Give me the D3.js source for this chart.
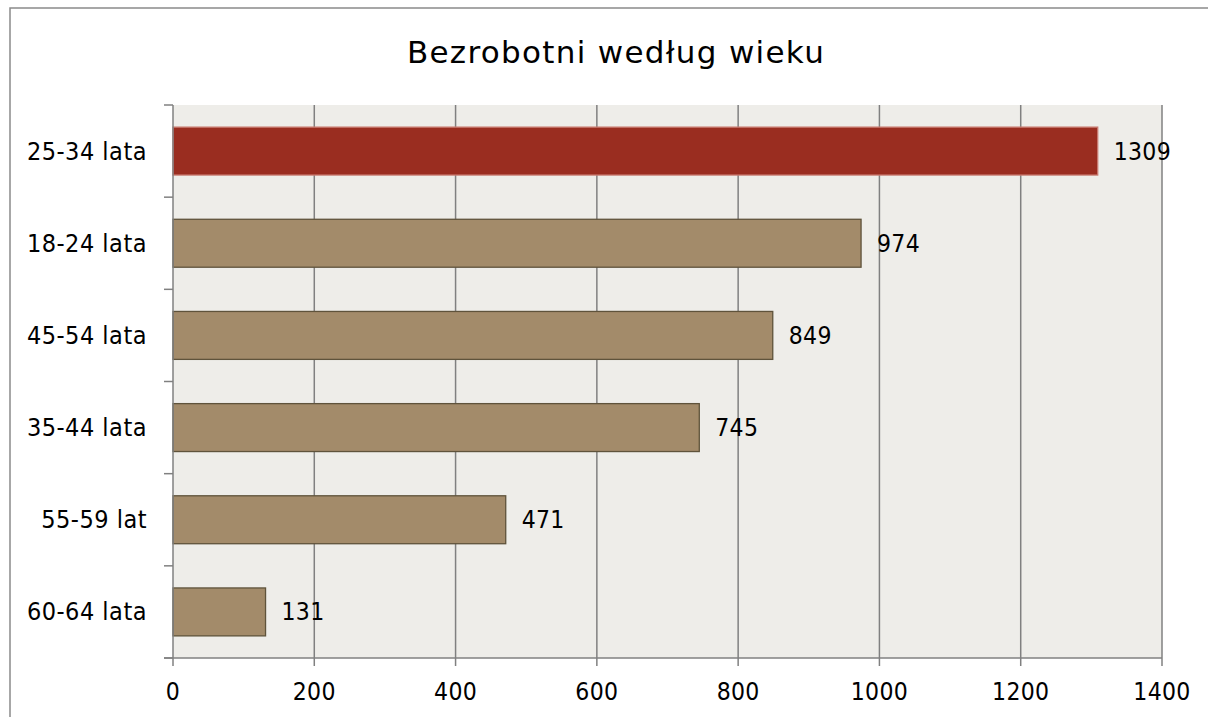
<!DOCTYPE html>
<meta charset="utf-8">
<script src="https://d3js.org/d3.v7.min.js"></script>
<style>
  body { margin: 0; background: #fff; }
  text { font-family: "DejaVu Sans Condensed", "DejaVu Sans", sans-serif; fill: #000; }
</style>
<body>
<script>
// Data
var categories = ["25-34 lata", "18-24 lata", "45-54 lata", "35-44 lata", "55-59 lat", "60-64 lata"];
var values = [1309, 974, 849, 745, 471, 131];
var highlight = ["25-34 lata"];
var xTicks = [0, 200, 400, 600, 800, 1000, 1200, 1400];

var W = 1208, H = 717;
var margin = {top: 105, right: 46, bottom: 59, left: 173};
var width = W - margin.left - margin.right,
    height = H - margin.top - margin.bottom;

var svg = d3.select("body").append("svg")
    .attr("width", W)
    .attr("height", H);

// Outer chart border (runs off the right and bottom edges)
svg.append("rect")
    .attr("x", 10).attr("y", 8)
    .attr("width", W + 20).attr("height", H + 20)
    .attr("fill", "none")
    .attr("stroke", "#8a8a8a")
    .attr("stroke-width", 1.5);

svg.append("text")
    .attr("x", 616).attr("y", 63)
    .attr("text-anchor", "middle")
    .style("font-family", "'DejaVu Sans', sans-serif")
    .style("font-size", "31px")
    .style("letter-spacing", "1.3px")
    .text("Bezrobotni według wieku");

var g = svg.append("g")
    .attr("transform", "translate(" + margin.left + "," + margin.top + ")");

var x = d3.scaleLinear().domain([0, 1400]).range([0, width]);
var y = d3.scaleBand().domain(categories).range([0, height]).paddingInner(0.48).paddingOuter(0.24);
var yb = d3.scaleBand().domain(categories).range([0, height]);

// Plot area background
g.append("rect")
    .attr("width", width).attr("height", height)
    .attr("fill", "#eeede9");

// Vertical gridlines + ticks below the axis
g.selectAll(".grid")
    .data(xTicks.slice(1))
    .enter().append("line")
    .attr("x1", function(d) { return x(d); })
    .attr("x2", function(d) { return x(d); })
    .attr("y1", 0).attr("y2", height + 8)
    .attr("stroke", "#808080")
    .attr("stroke-width", 1.5);

// Bars
g.selectAll(".bar")
    .data(categories)
    .enter().append("rect")
    .attr("x", 0)
    .attr("y", function(d) { return y(d); })
    .attr("width", function(d, i) { return x(values[i]); })
    .attr("height", y.bandwidth())
    .attr("fill", function(d) { return highlight.indexOf(d) >= 0 ? "#9a2d20" : "#a38b6a"; })
    .attr("stroke", function(d) { return highlight.indexOf(d) >= 0 ? "#c97a70" : "#5f533b"; })
    .attr("stroke-width", 1.3);

// Value labels
g.selectAll(".val")
    .data(categories)
    .enter().append("text")
    .attr("x", function(d, i) { return x(values[i]) + 16; })
    .attr("y", function(d) { return y(d) + y.bandwidth() / 2; })
    .attr("dominant-baseline", "central")
    .style("font-size", "24.5px")
    .style("letter-spacing", "0.3px")
    .text(function(d, i) { return values[i]; });

// Y axis: line with ticks at category boundaries
var yAxisG = g.append("g");
yAxisG.append("line")
    .attr("x1", 0).attr("x2", 0)
    .attr("y1", 0).attr("y2", height + 8)
    .attr("stroke", "#808080").attr("stroke-width", 1.5);
yAxisG.selectAll(".ytick")
    .data(categories.concat(["end"]))
    .enter().append("line")
    .attr("x1", -9).attr("x2", 0)
    .attr("y1", function(d, i) { return i < categories.length ? yb(d) : height; })
    .attr("y2", function(d, i) { return i < categories.length ? yb(d) : height; })
    .attr("stroke", "#808080").attr("stroke-width", 1.5);
yAxisG.selectAll(".ylab")
    .data(categories)
    .enter().append("text")
    .attr("x", -26)
    .attr("y", function(d) { return yb(d) + yb.bandwidth() / 2; })
    .attr("text-anchor", "end")
    .attr("dominant-baseline", "central")
    .style("font-size", "25px")
    .style("letter-spacing", "0.5px")
    .text(function(d) { return d; });

// X axis
var xAxisG = g.append("g").attr("transform", "translate(0," + height + ")");
xAxisG.append("line")
    .attr("x1", -9).attr("x2", width)
    .attr("stroke", "#808080").attr("stroke-width", 1.5);
xAxisG.selectAll(".xlab")
    .data(xTicks)
    .enter().append("text")
    .attr("x", function(d) { return x(d); })
    .attr("y", 33)
    .attr("text-anchor", "middle")
    .attr("dominant-baseline", "central")
    .style("font-size", "24.5px")
    .style("letter-spacing", "0.3px")
    .text(function(d) { return d; });
</script>
</body>
